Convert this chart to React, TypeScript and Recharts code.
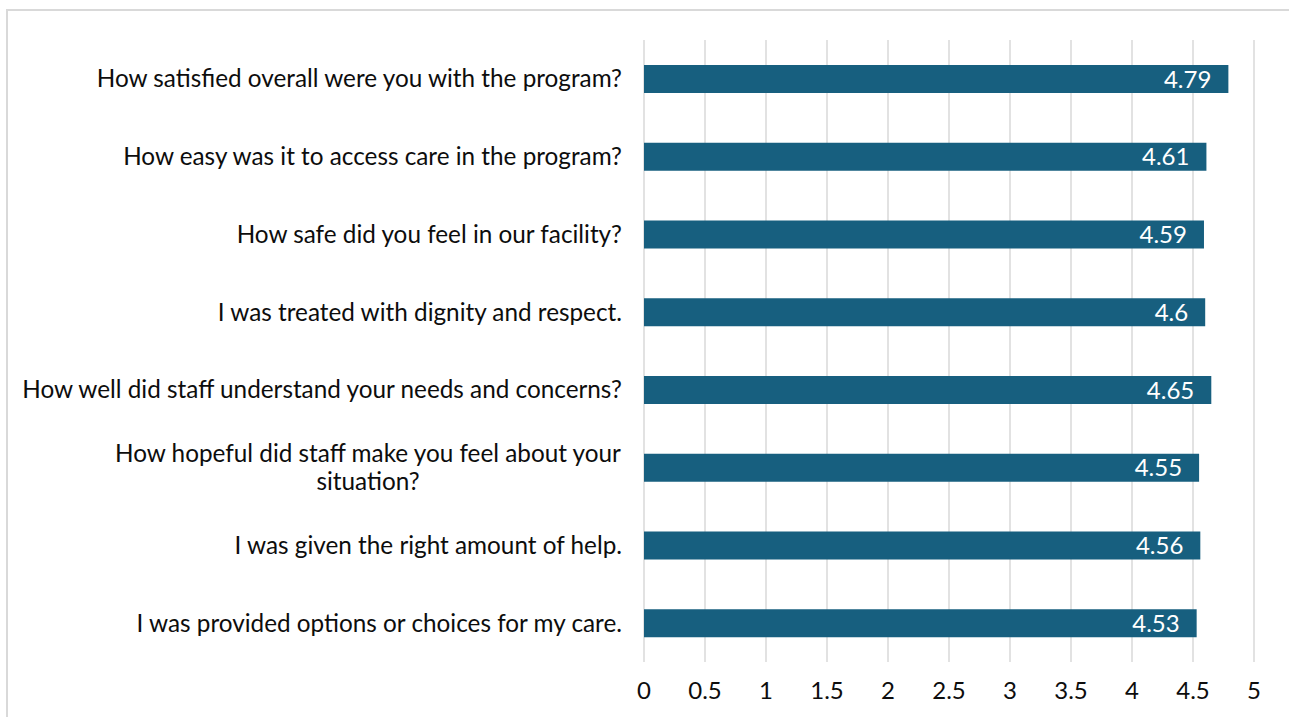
import React from "react";
import { BarChart, Bar, XAxis, YAxis, CartesianGrid, LabelList } from "recharts";

const questions = [
  "How satisfied overall were you with the program?",
  "How easy was it to access care in the program?",
  "How safe did you feel in our facility?",
  "I was treated with dignity and respect.",
  "How well did staff understand your needs and concerns?",
  "How hopeful did staff make you feel about your situation?",
  "I was given the right amount of help.",
  "I was provided options or choices for my care.",
];
const scores = [4.79, 4.61, 4.59, 4.6, 4.65, 4.55, 4.56, 4.53];
const xTicks = [0, 0.5, 1, 1.5, 2, 2.5, 3, 3.5, 4, 4.5, 5];

const data = questions.map((q, i) => ({ q, v: scores[i] }));

const FONT = "Lato, 'Noto Sans', sans-serif";
const FS = 24;
const CFS = 24.3;

let ctx: CanvasRenderingContext2D | null = null;
function measure(t: string): number {
  if (!ctx) {
    const c = document.createElement("canvas");
    ctx = c.getContext("2d");
  }
  if (!ctx) return t.length * CFS * 0.5;
  ctx.font = `${CFS}px Lato`;
  return ctx.measureText(t).width;
}

function wrap(text: string, maxW: number): string[] {
  const words = text.split(" ");
  const lines: string[] = [];
  let cur = "";
  for (const w of words) {
    const cand = cur ? cur + " " + w : w;
    if (measure(cand) > maxW && cur) {
      lines.push(cur);
      cur = w;
    } else cur = cand;
  }
  if (cur) lines.push(cur);
  return lines;
}

const CatTick = (props: any) => {
  const { x, y, payload } = props;
  const right = x - 14;
  const lines = wrap(String(payload.value), 605);
  const widths = lines.map(measure);
  const maxW = Math.max(...widths);
  const cx = right - maxW / 2;
  const lh = 28;
  const y0 = y - ((lines.length - 1) * lh) / 2;
  return (
    <g>
      {lines.map((l, i) => (
        <text
          key={i}
          x={lines.length > 1 ? cx : right}
          y={y0 + i * lh}
          dy="0.35em"
          textAnchor={lines.length > 1 ? "middle" : "end"}
          fill="#0d0d0d"
          fontSize={CFS}
          fontFamily={FONT}
        >
          {l}
        </text>
      ))}
    </g>
  );
};

export default function App() {
  return (
    <div
      style={{
        position: "fixed",
        left: 0,
        top: 0,
        width: 1289,
        height: 717,
        overflow: "hidden",
        background: "#fff",
      }}
    >
      <div
        style={{
          position: "absolute",
          left: 6,
          top: 9,
          width: 1400,
          height: 800,
          border: "2px solid #d9d9d9",
          boxSizing: "border-box",
        }}
      />
      <div style={{ position: "absolute", left: 0, top: 0 }}>
        <BarChart
          width={1289}
          height={717}
          data={data}
          layout="vertical"
          margin={{ top: 40, right: 35, bottom: 0, left: 0 }}
          barCategoryGap={0}
        >
          <CartesianGrid horizontal={false} stroke="#d9d9d9" strokeWidth={1.5} />
          <XAxis
            type="number"
            domain={[0, 5]}
            ticks={xTicks}
            axisLine={false}
            tickLine={false}
            tickMargin={14}
            height={55}
            interval={0}
            tick={{ fill: "#0d0d0d", fontSize: FS, fontFamily: FONT }}
          />
          <YAxis
            type="category"
            dataKey="q"
            width={644}
            axisLine={false}
            tickLine={false}
            interval={0}
            tick={<CatTick />}
          />
          <Bar dataKey="v" fill="#175f7f" barSize={28} isAnimationActive={false}>
            <LabelList
              dataKey="v"
              position="insideRight"
              offset={17}
              fill="#ffffff"
              fontSize={FS}
              fontFamily={FONT}
            />
          </Bar>
        </BarChart>
      </div>
    </div>
  );
}
